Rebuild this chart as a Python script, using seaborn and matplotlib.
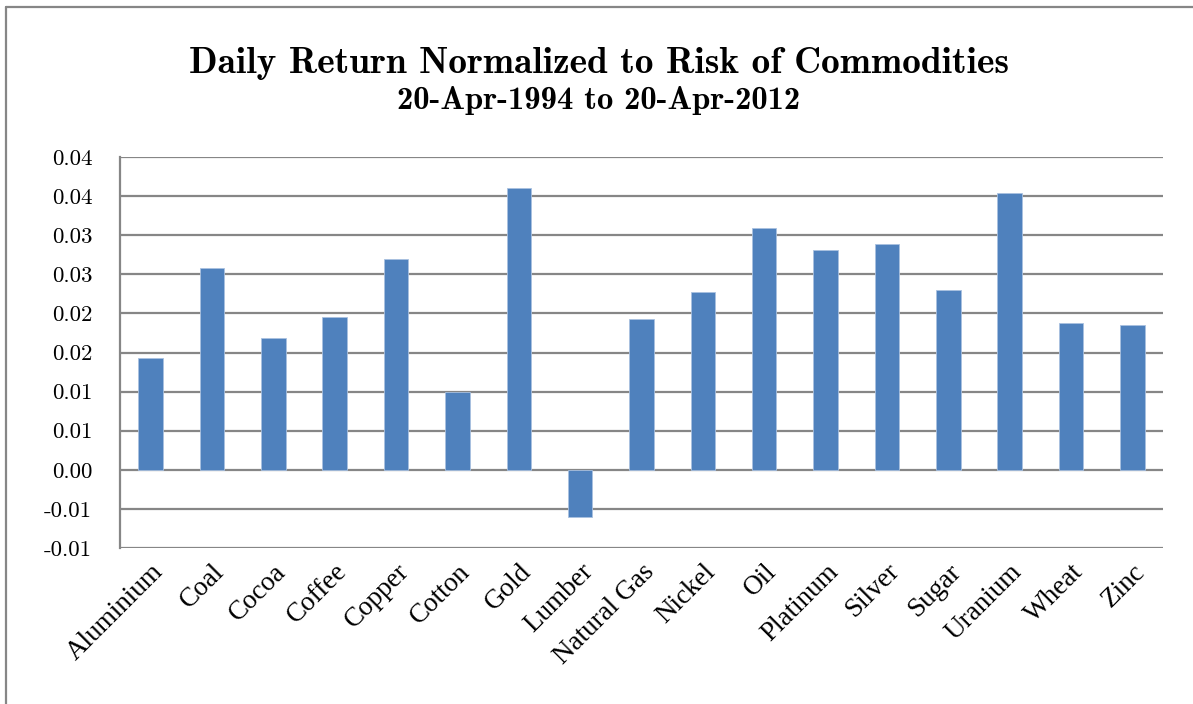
import matplotlib
matplotlib.use("Agg")
import matplotlib.pyplot as plt
from matplotlib.lines import Line2D
import seaborn as sns

# values
commodities = ["Aluminium", "Coal", "Cocoa", "Coffee", "Copper", "Cotton", "Gold",
               "Lumber", "Natural Gas", "Nickel", "Oil", "Platinum", "Silver",
               "Sugar", "Uranium", "Wheat", "Zinc"]
returns = [0.01425, 0.02585, 0.0168, 0.0196, 0.0270, 0.0100, 0.0360,
           -0.00607, 0.0193, 0.02275, 0.0309, 0.0281, 0.0289,
           0.0230, 0.03546, 0.0188, 0.0185]
ytick_vals = [-0.010, -0.005, 0.0, 0.005, 0.010, 0.015, 0.020, 0.025, 0.030, 0.035, 0.040]
ytick_labels = ["-0.01", "-0.01", "0.00", "0.01", "0.01", "0.02", "0.02",
                "0.03", "0.03", "0.04", "0.04"]

W, H = 1193, 704
BAR = "#4F81BD"
GRID = "#868686"

sns.set_theme(style="white")
plt.rcParams.update({
    "font.family": ["cmr10", "DejaVu Serif"],
    "axes.unicode_minus": False,
    "axes.formatter.use_mathtext": True,
    "text.color": "black",
    "xtick.color": "black",
    "ytick.color": "black",
})

fig = plt.figure(figsize=(W / 100, H / 100), dpi=100)
ax = fig.add_axes([120 / W, 1 - 548 / H, (1163 - 120) / W, (548 - 157) / H])

sns.barplot(x=commodities, y=returns, color=BAR, width=0.4, saturation=1,
            edgecolor="#A9C1E0", linewidth=0.6, ax=ax, zorder=3)

ax.set_ylim(ytick_vals[0], ytick_vals[-1])
ax.set_xlim(-0.5, len(commodities) - 0.5)
ax.set_yticks(ytick_vals)
ax.set_yticklabels(ytick_labels, fontsize=16.5)
ax.set_xlabel("")
ax.set_ylabel("")
ax.tick_params(axis="both", length=0)
ax.tick_params(axis="y", pad=20)
ax.set_xticks(range(len(commodities)))
ax.set_xticklabels(commodities, rotation=45, ha="right", rotation_mode="anchor",
                   fontsize=19.5, family=["Liberation Serif", "DejaVu Serif"])
ax.tick_params(axis="x", pad=8)

ax.set_axisbelow(True)
ax.grid(axis="y", color=GRID, linewidth=1.6)
ax.grid(axis="x", visible=False)
for side in ["top", "right", "bottom"]:
    ax.spines[side].set_visible(False)
ax.spines["left"].set_color(GRID)
ax.spines["left"].set_linewidth(1.6)

# outer chart frame (only top and left edges fall inside the picture)
fig.add_artist(Line2D([6 / W, 1.01], [1 - 7 / H, 1 - 7 / H], color=GRID, lw=1.6))
fig.add_artist(Line2D([6 / W, 6 / W], [-0.01, 1 - 7 / H], color=GRID, lw=1.6))

fig.text(599 / W, 1 - 73 / H, "Daily Return Normalized to Risk of Commodities",
         family="cmb10", fontsize=26.9, ha="center", va="baseline")
fig.text(599 / W, 1 - 109 / H, "20-Apr-1994 to 20-Apr-2012",
         family="cmb10", fontsize=23.5, ha="center", va="baseline")

fig.savefig("out.png", dpi=100)
